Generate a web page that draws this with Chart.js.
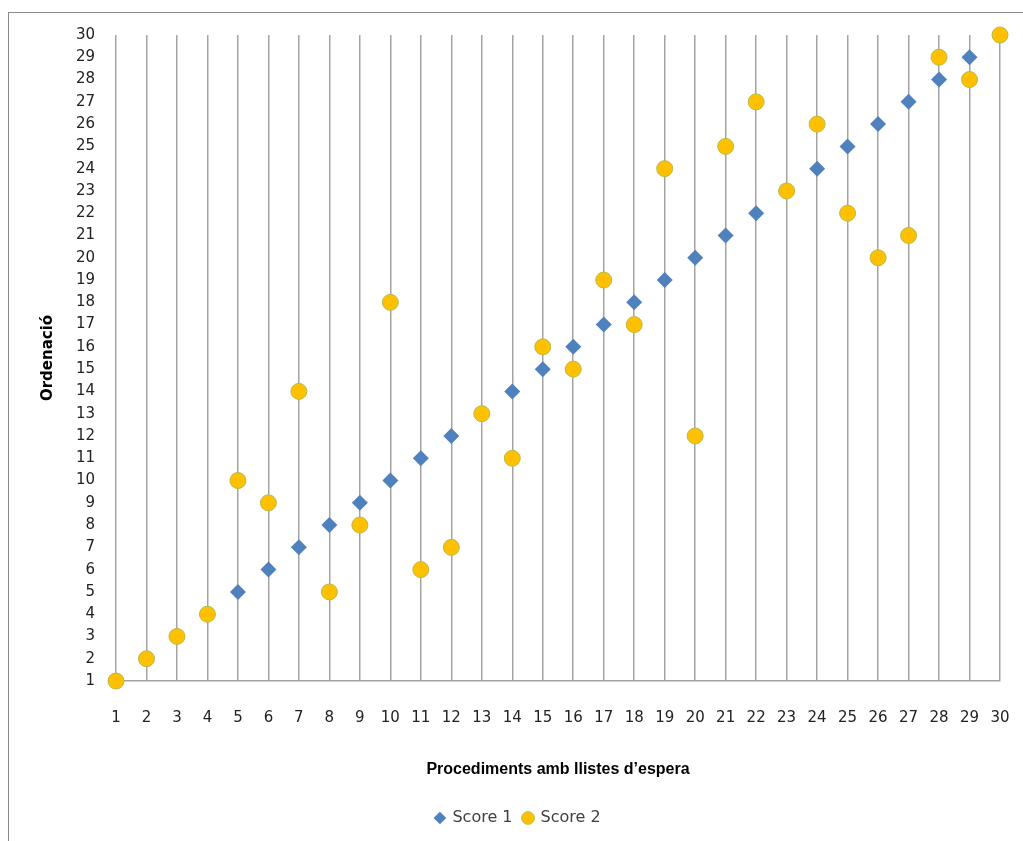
<!DOCTYPE html>
<html>
<head>
<meta charset="utf-8">
<script src="https://cdn.jsdelivr.net/npm/chart.js@4/dist/chart.umd.min.js"></script>
<style>
  html, body { margin: 0; padding: 0; background: #ffffff; overflow: hidden; }
  #wrap { position: relative; width: 1023px; height: 841px; }
  #frame { position: absolute; left: 8px; top: 12px; width: 1100px; height: 900px;
           border: 1px solid #8a8a8a; box-sizing: border-box; }
  canvas { position: absolute; left: 0; top: 0; }
</style>
</head>
<body>
<div id="wrap">
  <div id="frame"></div>
  <canvas id="chart" width="1023" height="841"></canvas>
</div>
<script>
// Procedures (x) and their rank under each score (y)
const procedures = [1, 2, 3, 4, 5, 6, 7, 8, 9, 10, 11, 12, 13, 14, 15,
                    16, 17, 18, 19, 20, 21, 22, 23, 24, 25, 26, 27, 28, 29, 30];
const score1 = [1, 2, 3, 4, 5, 6, 7, 8, 9, 10, 11, 12, 13, 14, 15,
                16, 17, 18, 19, 20, 21, 22, 23, 24, 25, 26, 27, 28, 29, 30];
const score2 = [1, 2, 3, 4, 10, 9, 14, 5, 8, 18, 6, 7, 13, 11, 16,
                15, 19, 17, 24, 12, 25, 27, 23, 26, 22, 20, 21, 29, 28, 30];
const seriesNames = ['Score 1', 'Score 2'];
const xTitle = 'Procediments amb llistes d\u2019espera';
const yTitle = 'Ordenació';

const toPoints = vals => procedures.map((p, i) => ({ x: p, y: vals[i] }));

const gridGrey = '#a3a3a3';
const tickFont = { family: 'DejaVu Sans', size: 15 };

new Chart(document.getElementById('chart'), {
  type: 'scatter',
  data: {
    datasets: [
      // listed first so the circles are painted on top of the diamonds
      {
        label: seriesNames[1],
        data: toPoints(score2),
        pointStyle: 'circle',
        pointRadius: 8,
        pointHoverRadius: 8,
        backgroundColor: '#FFC000',
        borderColor: '#B4BC4A',
        borderWidth: 1,
        clip: false
      },
      {
        label: seriesNames[0],
        data: toPoints(score1),
        pointStyle: 'rectRot',
        pointRadius: 8,
        pointHoverRadius: 8,
        backgroundColor: '#4F81BD',
        borderColor: '#4F81BD',
        borderWidth: 0,
        clip: false
      }
    ]
  },
  options: {
    responsive: false,
    animation: false,
    devicePixelRatio: 1,
    layout: { padding: { left: 36, right: 23, top: 35, bottom: 5 } },
    plugins: {
      tooltip: { enabled: false },
      legend: {
        position: 'bottom',
        reverse: true,
        labels: {
          usePointStyle: true,
          boxWidth: 9,
          boxHeight: 9,
          padding: 11,
          color: '#404040',
          font: { family: 'DejaVu Sans', size: 16 }
        }
      }
    },
    scales: {
      x: {
        type: 'linear',
        min: 1,
        max: 30,
        afterFit: s => { s.height = 118; s.paddingLeft = 0; s.paddingRight = 0; },
        afterBuildTicks: s => { s.ticks = procedures.map(v => ({ value: v })); },
        ticks: {
          autoSkip: false,
          maxRotation: 0,
          padding: 28,
          color: '#222222',
          font: tickFont
        },
        grid: {
          display: true,
          drawTicks: false,
          color: gridGrey,
          lineWidth: 1.5
        },
        border: { display: true, color: gridGrey, width: 1.5 },
        title: {
          display: true,
          text: xTitle,
          color: '#000000',
          font: { family: 'Liberation Sans', size: 16, weight: 'bold' },
          padding: { top: 0, bottom: 20 }
        }
      },
      y: {
        type: 'linear',
        min: 1,
        max: 30,
        afterFit: s => { s.width = 80; s.paddingTop = 0; s.paddingBottom = 0; },
        afterBuildTicks: s => { s.ticks = score1.map(v => ({ value: v })); },
        ticks: {
          autoSkip: false,
          padding: 21,
          color: '#222222',
          font: tickFont
        },
        grid: { display: false, drawTicks: false },
        border: { display: false },
        title: {
          display: true,
          text: yTitle,
          color: '#000000',
          font: { family: 'DejaVu Sans', size: 15, weight: 'bold' },
          padding: { top: 3, bottom: 0 }
        }
      }
    }
  }
});
</script>
</body>
</html>
